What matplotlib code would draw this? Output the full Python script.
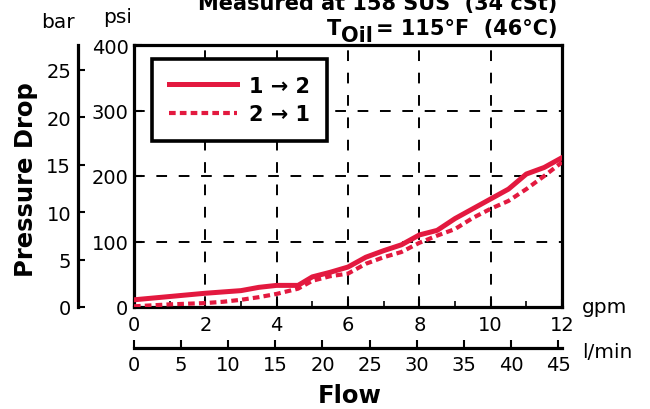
import matplotlib
matplotlib.use('Agg')
import matplotlib.pyplot as plt

plt.rcParams['font.family'] = ['DejaVu Sans']

# flow (gpm) and pressure drop (psi)
flow_gpm = [0, 1, 2, 2.5, 3, 3.5, 4, 4.6, 5, 5.5, 6, 6.5, 7, 7.5, 8, 8.5,
            9, 9.5, 10, 10.5, 11, 11.5, 12]
drop_1_2 = [11, 16, 21, 23, 25, 30, 33, 33, 46, 53, 61, 76, 86, 95, 110, 117,
            135, 150, 165, 180, 203, 213, 228]
drop_2_1 = [1, 4, 6, 8, 11, 15, 20, 28, 40, 47, 51, 66, 76, 84, 98, 109,
            119, 136, 150, 162, 180, 200, 221]

gpm_ticks = [0, 2, 4, 6, 8, 10, 12]
psi_ticks = [0, 100, 200, 300, 400]
bar_ticks = [0, 5, 10, 15, 20, 25]
lmin_ticks = [0, 5, 10, 15, 20, 25, 30, 35, 40, 45]

PSI_PER_BAR = 14.5038
LMIN_PER_GPM = 3.785
red = '#e3193f'

fig = plt.figure(figsize=(6.5, 4.1), dpi=100)
ax = fig.add_axes([134 / 650, 1 - 308 / 410, 428 / 650, 262 / 410])

ax.plot(flow_gpm, drop_1_2, color=red, lw=3.6, label='1 → 2', zorder=3)
ax.plot(flow_gpm, drop_2_1, color=red, lw=3.0, ls=(0, (1.6, 1.0)),
        label='2 → 1', zorder=3)

ax.set_xlim(0, 12)
ax.set_ylim(0, 400)
ax.set_xticks(gpm_ticks)
ax.set_xticks(range(1, 12, 2), minor=True)
ax.set_yticks(psi_ticks)
ax.tick_params(direction='in', length=6, width=1.5, labelsize=14)
ax.tick_params(axis='x', which='minor', direction='in', length=4, width=1.2)
ax.tick_params(axis='x', pad=6)
ax.tick_params(axis='y', pad=4)
ax.grid(True, color='black', lw=1.4, ls=(0, (5.5, 6)))
ax.set_axisbelow(True)
for s in ax.spines.values():
    s.set_linewidth(2.3)

leg = ax.legend(loc='upper left', bbox_to_anchor=(0.042, 0.947),
                borderaxespad=0, fancybox=False, framealpha=1,
                edgecolor='black', handlelength=3.3, handletextpad=0.55,
                borderpad=0.8, labelspacing=0.4,
                prop={'weight': 'bold', 'size': 15})
leg.get_frame().set_linewidth(2.6)

# bar scale on the far left
ax2 = ax.twinx()
ax2.set_ylim(0, 400 / PSI_PER_BAR)
ax2.yaxis.tick_left()
ax2.set_yticks(bar_ticks)
for k in ['top', 'right', 'bottom']:
    ax2.spines[k].set_visible(False)
ax2.spines['left'].set_visible(True)
ax2.spines['left'].set_position(('outward', 40.3))
ax2.spines['left'].set_bounds(0, 400 / PSI_PER_BAR)
ax2.spines['left'].set_linewidth(2.3)
ax2.tick_params(direction='in', length=5, width=1.5, labelsize=14, pad=5)

# l/min scale under the gpm axis
sec = ax.secondary_xaxis(-0.1565, functions=(lambda g: g * LMIN_PER_GPM,
                                             lambda l: l / LMIN_PER_GPM))
sec.set_xticks(lmin_ticks)
sec.spines['bottom'].set_linewidth(2.3)
sec.tick_params(direction='in', length=6, width=1.5, labelsize=14, pad=5)

fig.text(58 / 650, 1 - 28 / 410, 'bar', fontsize=14.5, ha='center')
fig.text(118 / 650, 1 - 23 / 410, 'psi', fontsize=14.5, ha='center')
fig.text(26 / 650, 1 - 180 / 410, 'Pressure Drop', fontsize=17.5,
         fontweight='bold', rotation=90, ha='center', va='center')
fig.text(582 / 650, 1 - 308 / 410, 'gpm', fontsize=14.5, va='center')
fig.text(582 / 650, 1 - 353 / 410, 'l/min', fontsize=14.5, va='center')
fig.text(350 / 650, 1 - 396 / 410, 'Flow', fontsize=17.5, fontweight='bold',
         ha='center', va='center')

# title, two lines, right aligned; "Oil" sits a bit lower than the T
fig.text(557 / 650, 1 - 10 / 410, 'Measured at 158 SUS  (34 cSt)',
         fontsize=15, fontweight='bold', ha='right', va='baseline')
t_rest = fig.text(557 / 650, 1 - 35 / 410, '= 115°F  (46°C)',
                  fontsize=15, fontweight='bold', ha='right', va='baseline')
t_oil = ax.annotate('Oil', xy=(0, 0), xycoords=t_rest,
                    xytext=(-2, -5), textcoords='offset points',
                    fontsize=15, fontweight='bold', ha='right', va='bottom',
                    annotation_clip=False)
ax.annotate('T', xy=(0, 0), xycoords=t_oil,
            xytext=(0, 5), textcoords='offset points',
            fontsize=15, fontweight='bold', ha='right', va='bottom',
            annotation_clip=False)

fig.savefig('out.png', dpi=100)
